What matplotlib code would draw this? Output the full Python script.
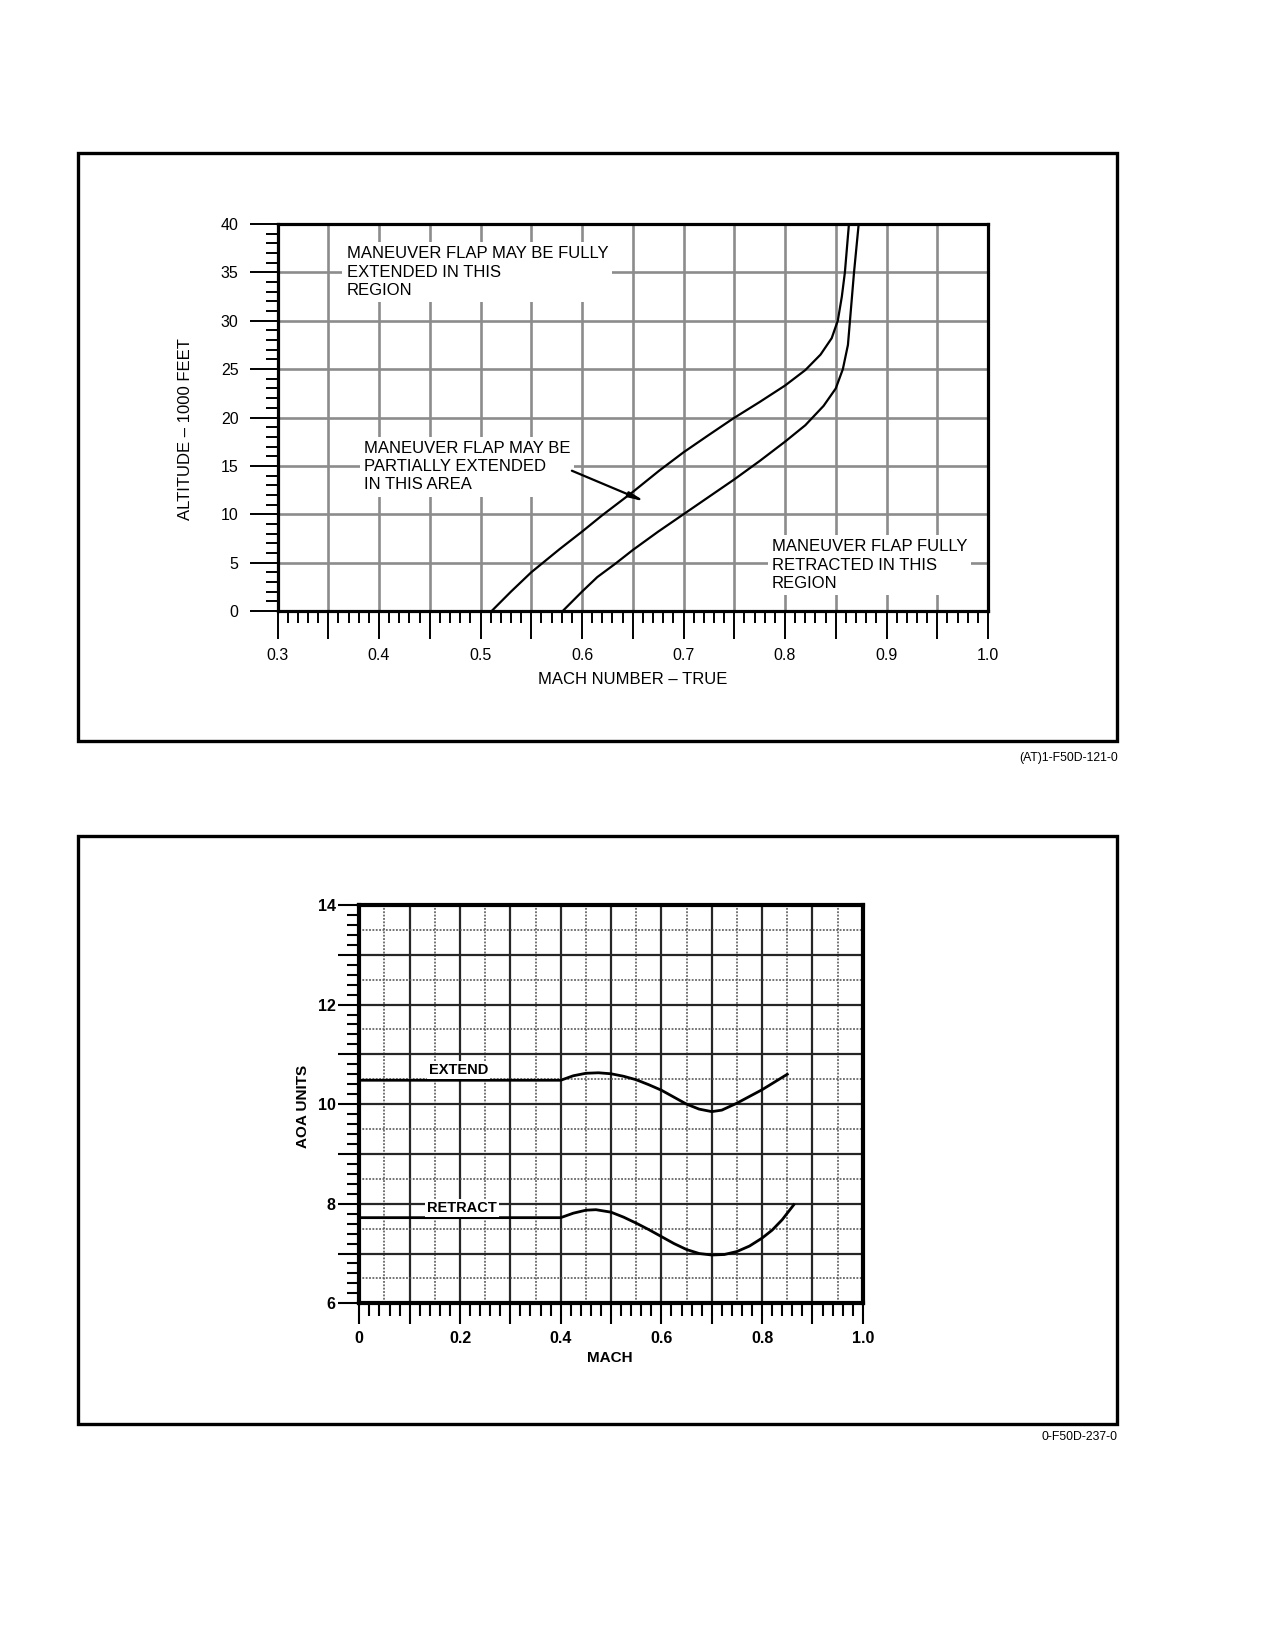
import matplotlib
matplotlib.use('Agg')
import matplotlib.pyplot as plt
from matplotlib.patches import Rectangle
from matplotlib.ticker import MultipleLocator, FuncFormatter

plt.rcParams['font.family'] = ['Liberation Sans', 'DejaVu Sans']

# --- top chart: maneuver flap schedule (mach vs altitude)
extend_mach = [0.511, 0.53, 0.55, 0.578, 0.60, 0.62, 0.65, 0.676, 0.70, 0.725,
               0.749, 0.775, 0.80, 0.82, 0.835, 0.846, 0.852, 0.856, 0.859, 0.861, 0.863]
extend_alt = [0, 2.0, 4.0, 6.4, 8.2, 9.9, 12.3, 14.5, 16.4, 18.2,
              19.9, 21.6, 23.3, 24.9, 26.5, 28.2, 30.0, 32.5, 35.0, 37.5, 40.0]
retract_mach = [0.581, 0.60, 0.615, 0.633, 0.65, 0.675, 0.70, 0.725, 0.75, 0.775,
                0.80, 0.82, 0.838, 0.85, 0.857, 0.862, 0.864, 0.866, 0.868, 0.8726]
retract_alt = [0, 2.0, 3.5, 4.9, 6.3, 8.2, 10.0, 11.8, 13.6, 15.5,
               17.5, 19.2, 21.2, 23.0, 25.0, 27.5, 30.0, 32.5, 35.0, 40.0]

# --- bottom chart: AOA switching points
aoa_ext_mach = [0, 0.40, 0.425, 0.45, 0.475, 0.50, 0.525, 0.55, 0.575, 0.60, 0.625,
                0.65, 0.675, 0.70, 0.72, 0.75, 0.80, 0.85]
aoa_ext = [10.48, 10.48, 10.57, 10.62, 10.63, 10.61, 10.56, 10.49, 10.39, 10.28, 10.14,
           10.0, 9.9, 9.85, 9.88, 10.02, 10.29, 10.60]
aoa_ret_mach = [0, 0.40, 0.425, 0.45, 0.47, 0.50, 0.525, 0.55, 0.575, 0.60, 0.625,
                0.65, 0.675, 0.70, 0.725, 0.75, 0.775, 0.80, 0.82, 0.84, 0.863]
aoa_ret = [7.72, 7.72, 7.81, 7.87, 7.88, 7.83, 7.73, 7.61, 7.48, 7.34, 7.20,
           7.08, 7.0, 6.97, 6.98, 7.04, 7.15, 7.31, 7.47, 7.68, 7.98]

W, H = 1270, 1643
fig = plt.figure(figsize=(W / 100, H / 100), dpi=100)


def rect(x0, y0, x1, y1):
    # pixel box -> figure fraction [left, bottom, width, height]
    return [x0 / W, 1 - y1 / H, (x1 - x0) / W, (y1 - y0) / H]


# outer frames + captions
for (x0, y0, x1, y1) in [(77.5, 153, 1117, 741), (77.5, 836, 1117, 1424)]:
    r = rect(x0, y0, x1, y1)
    fig.patches.append(Rectangle((r[0], r[1]), r[2], r[3], transform=fig.transFigure,
                                 fill=False, lw=2.4, color='black'))
fig.text(1118 / W, 1 - 758 / H, '(AT)1-F50D-121-0', ha='right', va='center', fontsize=8.8)
fig.text(1118 / W, 1 - 1437.5 / H, '0-F50D-237-0', ha='right', va='center', fontsize=8.8)

# ================= top chart
ax = fig.add_axes(rect(277.5, 224, 988, 611))
ax.set_xlim(0.3, 1.0)
ax.set_ylim(0, 40)
ax.xaxis.set_major_locator(MultipleLocator(0.05))
ax.xaxis.set_minor_locator(MultipleLocator(0.01))
ax.xaxis.set_major_formatter(FuncFormatter(
    lambda v, p: f'{v:.1f}' if abs(round(v * 10) - v * 10) < 1e-6 else ''))
ax.yaxis.set_major_locator(MultipleLocator(5))
ax.yaxis.set_minor_locator(MultipleLocator(1))
ax.tick_params(which='major', length=20, width=1.4, labelsize=11.5, pad=7)
ax.tick_params(which='minor', length=8.5, width=1.4)
ax.tick_params(axis='y', which='major', pad=8)
for s in ax.spines.values():
    s.set_linewidth(2.3)
ax.set_axisbelow(True)
ax.grid(True, which='major', color='0.55', lw=1.9)

ax.plot(extend_mach, extend_alt, color='black', lw=1.6)
ax.plot(retract_mach, retract_alt, color='black', lw=1.6)

box = dict(fc='white', ec='none', pad=3)
ax.text(0.368, 37.7, 'MANEUVER FLAP MAY BE FULLY\nEXTENDED IN THIS\nREGION',
        fontsize=12, va='top', ha='left', linespacing=1.28, bbox=box)
ax.text(0.385, 17.6, 'MANEUVER FLAP MAY BE\nPARTIALLY EXTENDED\nIN THIS AREA',
        fontsize=12, va='top', ha='left', linespacing=1.28, bbox=box)
ax.text(0.787, 7.4, 'MANEUVER FLAP FULLY\nRETRACTED IN THIS\nREGION',
        fontsize=12, va='top', ha='left', linespacing=1.28, bbox=box)
ax.annotate('', xy=(0.6625, 11.3), xytext=(0.590, 14.5),
            arrowprops=dict(arrowstyle='-|>,head_length=0.9,head_width=0.15',
                            lw=1.6, color='black', shrinkA=0, shrinkB=0))

ax.set_xlabel('MACH NUMBER \u2013 TRUE', fontsize=12)
ax.xaxis.label.set_va('center')
ax.xaxis.set_label_coords(0.5, -0.177)
ax.set_ylabel('ALTITUDE \u2013 1000 FEET', fontsize=12)
ax.yaxis.label.set_va('center')
ax.yaxis.set_label_coords(-0.129, 0.47)

# ================= bottom chart
bx = fig.add_axes(rect(359.3, 905, 862.8, 1303.3))
bx.set_xlim(0, 1.0)
bx.set_ylim(6, 14)
bx.xaxis.set_major_locator(MultipleLocator(0.1))
bx.xaxis.set_minor_locator(MultipleLocator(0.02))
bx.xaxis.set_major_formatter(FuncFormatter(
    lambda v, p: ('0' if abs(v) < 1e-9 else f'{v:.1f}') if abs(round(v * 5) - v * 5) < 1e-6 else ''))
bx.yaxis.set_major_locator(MultipleLocator(1))
bx.yaxis.set_minor_locator(MultipleLocator(0.2))
bx.yaxis.set_major_formatter(FuncFormatter(
    lambda v, p: f'{v:.0f}' if round(v) % 2 == 0 else ''))
bx.tick_params(which='major', length=15, width=1.5, labelsize=11.5, pad=5)
bx.tick_params(which='minor', length=9, width=1.5)
bx.tick_params(axis='y', which='major', pad=2)
for lab in bx.get_xticklabels() + bx.get_yticklabels():
    lab.set_fontweight('bold')
for s in bx.spines.values():
    s.set_linewidth(3)
bx.set_axisbelow(True)
# grid: heavy at 0.1 / 1, light dotted at 0.05 / 0.5
for v in [i * 0.1 for i in range(1, 10)]:
    bx.axvline(v, color='0.15', lw=1.6, zorder=0.5)
for v in [0.05 + i * 0.1 for i in range(10)]:
    bx.axvline(v, color='0.3', lw=1.1, ls=(0, (1.2, 1.0)), zorder=0.5)
for v in range(7, 14):
    bx.axhline(v, color='0.15', lw=1.6, zorder=0.5)
for v in [6.5 + i for i in range(8)]:
    bx.axhline(v, color='0.3', lw=1.1, ls=(0, (1.2, 1.0)), zorder=0.5)

bx.plot(aoa_ext_mach, aoa_ext, color='black', lw=2)
bx.plot(aoa_ret_mach, aoa_ret, color='black', lw=2)

sbox = dict(fc='white', ec='none', pad=1.5)
bx.text(0.197, 10.69, 'EXTEND', fontsize=10.5, fontweight='bold', ha='center', va='center', bbox=sbox)
bx.text(0.204, 7.91, 'RETRACT', fontsize=10.5, fontweight='bold', ha='center', va='center', bbox=sbox)

bx.set_xlabel('MACH', fontsize=11, fontweight='bold')
bx.xaxis.label.set_va('center')
bx.xaxis.set_label_coords(0.498, -0.137)
bx.set_ylabel('AOA UNITS', fontsize=11, fontweight='bold')
bx.yaxis.label.set_va('center')
bx.yaxis.set_label_coords(-0.111, 0.494)

fig.savefig('out.png', dpi=100)
